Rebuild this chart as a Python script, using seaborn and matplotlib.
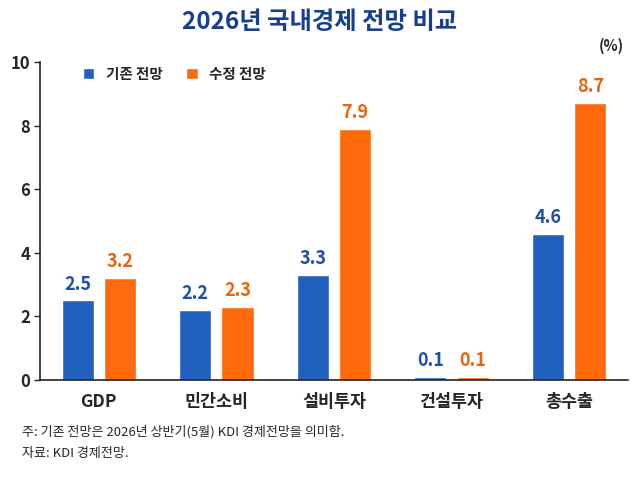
import matplotlib
matplotlib.use("Agg")
import matplotlib.pyplot as plt
import seaborn as sns
import pandas as pd
from matplotlib.patches import Patch

# data
categories = ["GDP", "민간소비", "설비투자", "건설투자", "총수출"]
baseline = [2.5, 2.2, 3.3, 0.1, 4.6]
revised = [3.2, 2.3, 7.9, 0.1, 8.7]
series_names = ["기존 전망", "수정 전망"]

BLUE = "#2260c0"
ORANGE = "#ff6a0d"
BLUE_TXT = "#1f4fa8"
ORANGE_TXT = "#e8640f"
NAVY = "#16408f"

sns.set_style("white")
plt.rcParams['font.family'] = ['Noto Sans CJK KR', 'DejaVu Sans']
plt.rcParams['axes.unicode_minus'] = False

df = pd.DataFrame({
    "category": categories * 2,
    "value": baseline + revised,
    "series": [series_names[0]] * len(categories) + [series_names[1]] * len(categories),
})

fig = plt.figure(figsize=(6.4, 4.8), dpi=100)
ax = fig.add_axes([0.0625, 0.2083, 0.9185, 0.6627])

sns.barplot(data=df, x="category", y="value", hue="series",
            palette=[BLUE, ORANGE], width=0.72, gap=0.24, ax=ax,
            saturation=1, legend=False)

ax.set_ylim(0, 10)
ax.set_xlim(-0.5, 4.5)
ax.set_yticks([0, 2, 4, 6, 8, 10])
ax.tick_params(axis='y', length=4, width=1, labelsize=12, pad=3, direction='out', left=True)
ax.tick_params(axis='x', length=0, labelsize=12.5, pad=9)
for lbl in ax.get_yticklabels() + ax.get_xticklabels():
    lbl.set_fontweight('bold')
ax.set_xlabel("")
ax.set_ylabel("")
sns.despine(ax=ax, top=True, right=True)
ax.spines['left'].set_linewidth(1.2)
ax.spines['bottom'].set_linewidth(1.2)
ax.spines['left'].set_color('#222222')
ax.spines['bottom'].set_color('#222222')

# value labels
for container, color in zip(ax.containers, [BLUE_TXT, ORANGE_TXT]):
    labels = [f"{b.get_height():.1f}" for b in container]
    ax.bar_label(container, labels=labels, padding=5, fontsize=13,
                 fontweight='bold', color=color)

# legend
handles = [Patch(facecolor=BLUE), Patch(facecolor=ORANGE)]
leg = ax.legend(handles, series_names, loc='upper left', bbox_to_anchor=(0.05, 1.03),
                ncol=2, frameon=False, handlelength=0.8, handleheight=0.8,
                columnspacing=1.6, handletextpad=0.8,
                prop={'weight': 'bold', 'size': 10.5})

fig.text(0.5, 0.955, "2026년 국내경제 전망 비교", ha='center', va='center',
         fontsize=17.5, fontweight='bold', color=NAVY)
fig.text(0.955, 0.905, "(%)", ha='center', va='center', fontsize=10.5, fontweight='bold')
fig.text(0.034, 0.1, "주: 기존 전망은 2026년 상반기(5월) KDI 경제전망을 의미함.",
         ha='left', va='center', fontsize=9.4)
fig.text(0.034, 0.056, "자료: KDI 경제전망.", ha='left', va='center', fontsize=9.4)

plt.savefig("out.png", dpi=100)
